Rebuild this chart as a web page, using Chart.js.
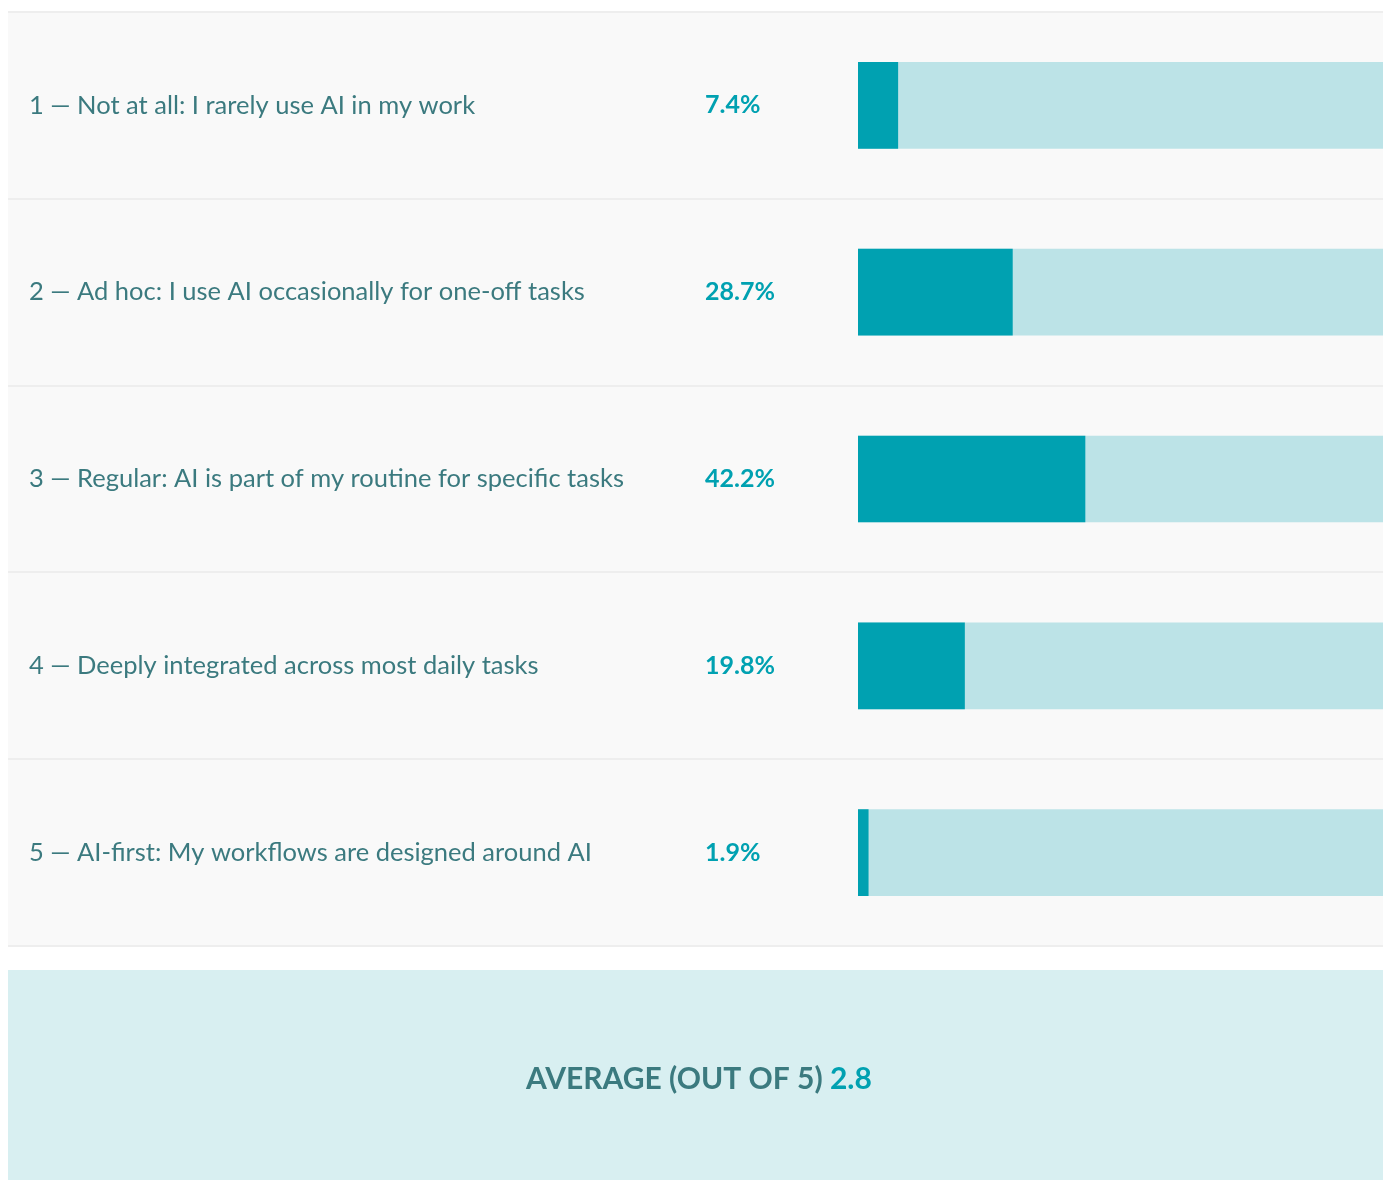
<!DOCTYPE html>
<html>
<head>
<meta charset="utf-8">
<title>AI adoption in daily work</title>
<script src="https://cdn.jsdelivr.net/npm/chart.js@4.4.1/dist/chart.umd.min.js"></script>
<style>
  html, body { margin: 0; padding: 0; background: #ffffff; }
  canvas { display: block; }
</style>
</head>
<body>
<canvas id="chart" width="1383" height="1180"></canvas>
<script>
// Survey answers: how deeply AI is woven into respondents' work
const categories = [
  '1 — Not at all: I rarely use AI in my work',
  '2 — Ad hoc: I use AI occasionally for one-off tasks',
  '3 — Regular: AI is part of my routine for specific tasks',
  '4 — Deeply integrated across most daily tasks',
  '5 — AI-first: My workflows are designed around AI'
];
const shares = [7.4, 28.7, 42.2, 19.8, 1.9];   // percent of respondents
const track = [100, 100, 100, 100, 100];      // full-scale background bar
const averageLabel = 'AVERAGE (OUT OF 5)';
const averageValue = 2.8;

const FONT = 'Lato, "Noto Sans", sans-serif';
const TEXT = '#3b7a7f';
const ACCENT = '#00a1b1';

const panelPlugin = {
  id: 'panel',
  beforeDraw(chart) {
    const { ctx, chartArea } = chart;
    ctx.save();
    // table panel behind the rows
    ctx.fillStyle = '#f9f9f9';
    ctx.fillRect(8, chartArea.top, chart.width - 8, chartArea.bottom - chartArea.top);
    // summary box
    ctx.fillStyle = '#d8eff1';
    ctx.fillRect(8, 970, chart.width - 8, chart.height - 970);
    ctx.restore();
  },
  afterDatasetsDraw(chart) {
    const { ctx } = chart;
    const y = chart.scales.y;
    ctx.save();
    ctx.font = 'bold 25px ' + FONT;
    ctx.fillStyle = ACCENT;
    ctx.textAlign = 'left';
    ctx.textBaseline = 'middle';
    shares.forEach((v, i) => {
      ctx.fillText(v.toFixed(1) + '%', 705, y.getPixelForValue(i));
    });
    ctx.restore();
  },
  afterDraw(chart) {
    const { ctx } = chart;
    ctx.save();
    ctx.font = 'bold 30px ' + FONT;
    ctx.textBaseline = 'middle';
    const head = averageLabel + ' ';
    const tail = averageValue.toFixed(1);
    const w1 = ctx.measureText(head).width;
    const w2 = ctx.measureText(tail).width;
    const x0 = 699 - (w1 + w2) / 2;
    const cy = 1079;
    ctx.fillStyle = TEXT;
    ctx.fillText(head, x0, cy);
    ctx.fillStyle = ACCENT;
    ctx.fillText(tail, x0 + w1, cy);
    ctx.restore();
  }
};

new Chart(document.getElementById('chart'), {
  type: 'bar',
  data: {
    labels: categories,
    datasets: [
      {
        label: 'Share',
        data: shares,
        backgroundColor: ACCENT,
        barThickness: 86,
        order: 0
      },
      {
        label: 'Scale',
        data: track,
        backgroundColor: '#bce3e7',
        barThickness: 86,
        order: 1
      }
    ]
  },
  options: {
    indexAxis: 'y',
    responsive: false,
    animation: false,
    events: [],
    layout: { padding: { left: 29, top: 12, right: 0, bottom: 234 } },
    plugins: {
      legend: { display: false },
      tooltip: { enabled: false },
      title: { display: false }
    },
    scales: {
      x: {
        display: false,
        min: 0,
        max: 97.6
      },
      y: {
        stacked: true,
        position: 'left',
        offset: true,
        afterFit(scale) { scale.width = 829; },
        border: { display: false },
        grid: {
          offset: true,
          drawOnChartArea: true,
          drawTicks: true,
          tickLength: 850,
          lineWidth: 2,
          color: (c) => (c.index === categories.length ? 'rgba(0,0,0,0)' : '#eeeeee')
        },
        ticks: {
          crossAlign: 'far',
          padding: 0,
          color: TEXT,
          font: { family: FONT, size: 25.5, lineHeight: 0.9 }
        }
      }
    }
  },
  plugins: [panelPlugin]
});
</script>
</body>
</html>
